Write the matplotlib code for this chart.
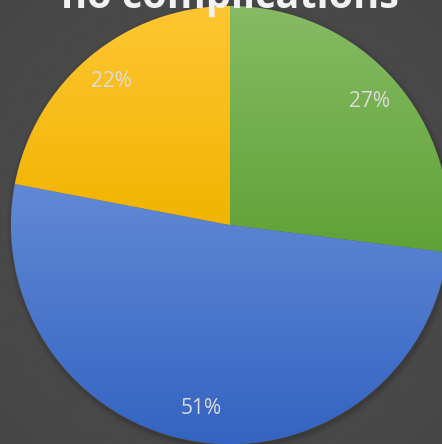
import numpy as np
import matplotlib
matplotlib.use("Agg")
import matplotlib.pyplot as plt
from matplotlib.colors import LinearSegmentedColormap

title = "no complications"
labels = ["27%", "51%", "22%"]
shares = [27, 51, 22]
top_colors = ["#86bb64", "#6189d5", "#ffc633"]
bottom_colors = ["#60a236", "#3464c2", "#f0b400"]

W, H = 442, 444
cx, cy, R = 230, 225, 219

fig = plt.figure(figsize=(W / 100, H / 100), dpi=100)
fig.patch.set_facecolor("#474747")
ax = fig.add_axes([0, 0, 1, 1])
ax.set_xlim(-cx / R, (W - cx) / R)
ax.set_ylim(-(H - cy) / R, cy / R)
ax.set_axis_off()

# soft background vignette
yy, xx = np.mgrid[0:1:200j, 0:1:200j]
bg = 0.31 - 0.05 * np.hypot(xx - 0.5, yy - 0.5)
ax.imshow(bg, extent=ax.get_xlim() + ax.get_ylim(), cmap="gray", vmin=0, vmax=1,
          aspect="auto", zorder=0)

# shadow under the pie
for i, a in enumerate(np.linspace(0.05, 0.01, 5)):
    sh = plt.Circle((0.005, -0.012), 1.0 + 0.006 * (i + 1), color="black", alpha=a, zorder=1, lw=0)
    ax.add_patch(sh)

wedges, texts, autotexts = ax.pie(
    shares, startangle=90, counterclock=False, radius=1.0, center=(0, 0),
    autopct=lambda p: "", pctdistance=0.85, frame=True,
    wedgeprops=dict(linewidth=0.6, edgecolor="#555555"),
)
ax.set_xlim(-cx / R, (W - cx) / R)
ax.set_ylim(-(H - cy) / R, cy / R)
ax.set_axis_off()

# vertical gradient inside each slice
grad = np.linspace(1, 0, 256).reshape(-1, 1)
for w, t, c_top, c_bot, lab in zip(wedges, autotexts, top_colors, bottom_colors, labels):
    w.set_facecolor(c_bot)
    w.set_zorder(2)
    ext = w.get_path().get_extents(w.get_patch_transform())
    cmap = LinearSegmentedColormap.from_list("g", [c_bot, c_top])
    im = ax.imshow(grad, extent=(ext.x0, ext.x1, ext.y0, ext.y1), cmap=cmap, vmin=0, vmax=1,
                   aspect="auto", zorder=3, origin="upper")
    im.set_clip_path(w)
    t.set_text(lab)
    t.set_color("#dcdcdc")
    t.set_fontsize(15)
    t.set_family(["Open Sans", "DejaVu Sans"])
    t.set_zorder(5)

fig.text(cx / W, 1 - 8 / H, title, ha="center", va="baseline", color="#f2f2f2",
         fontsize=28.5, fontweight="bold", family=["Open Sans", "DejaVu Sans"])

fig.savefig("out.png", dpi=100, facecolor=fig.get_facecolor())
